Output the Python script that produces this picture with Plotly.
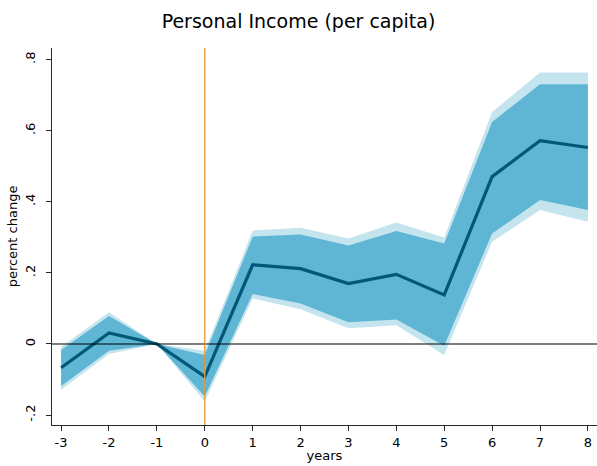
import plotly.graph_objects as go

# Event-study estimates for personal income per capita
years = [-3, -2, -1, 0, 1, 2, 3, 4, 5, 6, 7, 8]
estimate = [-0.067, 0.031, 0.0, -0.092, 0.223, 0.212, 0.170, 0.196, 0.138, 0.471, 0.572, 0.553]
ci90_low = [-0.118, -0.019, 0.0, -0.148, 0.141, 0.114, 0.061, 0.069, -0.005, 0.311, 0.405, 0.377]
ci90_high = [-0.017, 0.079, 0.0, -0.031, 0.302, 0.308, 0.277, 0.318, 0.283, 0.625, 0.731, 0.731]
ci95_low = [-0.129, -0.028, 0.0, -0.162, 0.128, 0.098, 0.044, 0.053, -0.031, 0.288, 0.377, 0.344]
ci95_high = [-0.008, 0.089, 0.0, -0.019, 0.319, 0.327, 0.297, 0.342, 0.300, 0.653, 0.764, 0.764]

x_tick_text = ["-3", "-2", "-1", "0", "1", "2", "3", "4", "5", "6", "7", "8"]
y_tick_vals = [-0.2, 0, 0.2, 0.4, 0.6, 0.8]
y_tick_text = ["-.2", "0", ".2", ".4", ".6", ".8"]

LIGHT = "rgb(196,228,238)"
MID = "rgb(95,181,212)"
DARK = "rgb(0,88,118)"

fig = go.Figure()

# 95% band
fig.add_trace(go.Scatter(x=years, y=ci95_high, mode="lines", line=dict(width=0, color=LIGHT),
                         showlegend=False, hoverinfo="skip"))
fig.add_trace(go.Scatter(x=years, y=ci95_low, mode="lines", line=dict(width=0, color=LIGHT),
                         fill="tonexty", fillcolor=LIGHT, showlegend=False, hoverinfo="skip"))
# 90% band
fig.add_trace(go.Scatter(x=years, y=ci90_high, mode="lines", line=dict(width=0, color=MID),
                         showlegend=False, hoverinfo="skip"))
fig.add_trace(go.Scatter(x=years, y=ci90_low, mode="lines", line=dict(width=0, color=MID),
                         fill="tonexty", fillcolor=MID, showlegend=False, hoverinfo="skip"))
# point estimate
fig.add_trace(go.Scatter(x=years, y=estimate, mode="lines", line=dict(width=3.2, color=DARK),
                         showlegend=False))

# reference lines
fig.add_shape(type="line", xref="paper", yref="y", x0=0, x1=1, y0=0, y1=0,
              line=dict(color="black", width=1.2), layer="above")
fig.add_shape(type="line", xref="x", yref="paper", x0=0, x1=0, y0=0, y1=1,
              line=dict(color="rgb(232,150,50)", width=1.3), layer="above")

FONT = "DejaVu Sans"

fig.update_layout(
    width=597, height=466,
    margin=dict(l=52, r=0, t=48, b=41),
    paper_bgcolor="white", plot_bgcolor="white",
    font=dict(family=FONT, size=13, color="black"),
    title=dict(text="Personal Income (per capita)", x=0.5, xanchor="center",
               y=0.955, yref="container", yanchor="middle",
               font=dict(family=FONT, size=19, color="black")),
    xaxis=dict(
        range=[-3.19, 8.19], tickmode="array", tickvals=years, ticktext=x_tick_text,
        ticks="outside", ticklen=5, tickcolor="rgb(40,40,40)", tickwidth=1,
        showline=True, linecolor="rgb(40,40,40)", linewidth=1,
        showgrid=False, zeroline=False,
        title=dict(text="years", standoff=2, font=dict(size=13)),
        tickfont=dict(size=13),
    ),
    yaxis=dict(
        range=[-0.228, 0.833], tickmode="array", tickvals=y_tick_vals, ticktext=y_tick_text,
        tickangle=-90, ticklabelstandoff=6,
        ticks="outside", ticklen=5, tickcolor="rgb(40,40,40)", tickwidth=1,
        showline=True, linecolor="rgb(40,40,40)", linewidth=1,
        showgrid=False, zeroline=False,
        title=dict(text="percent change", standoff=2, font=dict(size=13)),
        tickfont=dict(size=13),
    ),
)

fig.write_html("out.html")
